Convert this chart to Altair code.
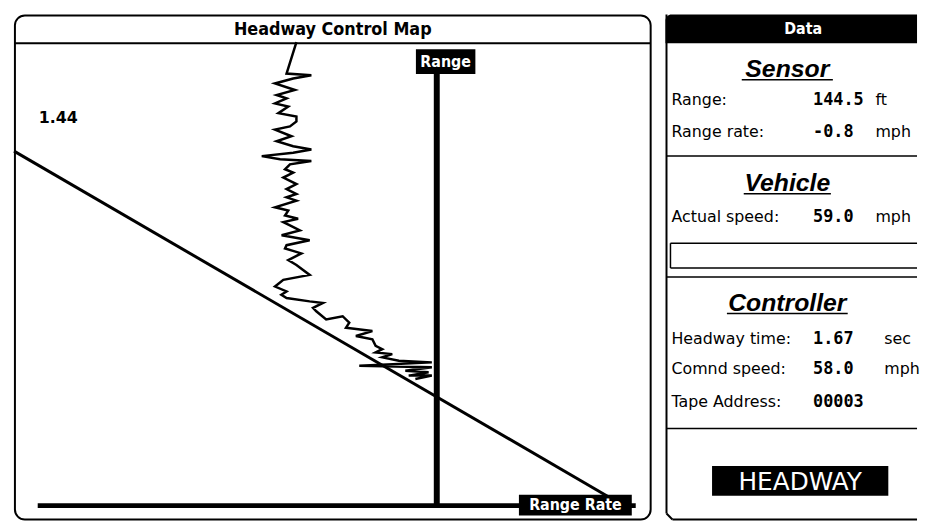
import altair as alt
import pandas as pd

# ---------------- data: headway control map (range rate in mph, range in ft) ----------------
trace_range_rate = [-9.96, -10.66, -8.90, -10.19, -11.48, -10.07, -11.36, -10.66, -11.48, -10.54,
                    -11.24, -9.96, -9.96, -10.42, -11.48, -10.31, -11.36, -10.19, -8.90, -10.19,
                    -12.42, -11.12, -8.90, -10.42, -10.77, -10.19, -10.89, -9.96, -10.66, -9.96,
                    -10.66, -9.96, -11.48, -10.54, -10.77, -9.84, -10.89, -10.42, -9.72, -11.01,
                    -9.02, -10.66, -10.77, -9.61, -10.54, -9.96, -9.02, -10.89, -11.48,
                    -10.66, -11.03, -10.66, -9.02, -8.08, -8.78, -8.55, -7.85, -6.68, -6.21,
                    -6.44, -4.57, -5.74, -4.57, -4.34, -3.87, -4.34, -3.16, -3.87, -2.69,
                    -0.35, -5.50, -0.35, -2.23, -0.58, -1.99, -0.35, -1.52]
trace_range = [490.1, 456.9, 455.2, 451.6, 446.4, 439.5, 434.2, 430.7, 425.4, 422.0,
               415.0, 411.5, 406.3, 401.0, 397.6, 390.6, 385.3, 380.1, 376.6, 373.1,
               369.6, 366.2, 364.4, 360.9, 355.7, 352.1, 346.9, 340.0, 334.8, 329.5,
               326.0, 322.5, 315.5, 312.0, 306.8, 303.4, 299.8, 296.3, 291.1, 285.9,
               280.6, 275.4, 271.9, 266.7, 259.7, 254.5, 244.0, 238.7, 231.7,
               226.5, 223.0, 219.6, 216.0, 214.3, 209.1, 205.5, 196.9, 200.3, 193.4,
               188.2, 184.6, 179.4, 175.9, 168.9, 165.4, 162.0, 160.2, 156.8, 153.2,
               151.5, 148.0, 146.3, 142.7, 141.0, 137.5, 137.5, 134.0]
headway_line_range_rate = [-30.0, 12.3]
headway_line_range = [374.9, 8.4]
headway_label = "1.44"
map_title = "Headway Control Map"

section_titles = ["Sensor", "Vehicle", "Controller"]
row_labels = ["Range:", "Range rate:", "Actual speed:", "Headway time:", "Comnd speed:", "Tape Address:"]
row_values = ["144.5", "-0.8", "59.0", "1.67", "58.0", "00003"]
row_units = ["ft", "mph", "mph", "sec", "mph", ""]
row_section = [0, 0, 1, 2, 2, 2]
mode_label = "HEADWAY"

# ---------------- layout ----------------
W, H = 912, 516
PX_MPH, PX_FT = 14.23, 0.955
X0, Y0 = 427, 500
xs = alt.Scale(domain=[-X0 / PX_MPH, (W - X0) / PX_MPH], nice=False, zero=False)
ys = alt.Scale(domain=[(Y0 - H) / PX_FT, Y0 / PX_FT], nice=False, zero=False)

COND = "DejaVu Sans Condensed, Liberation Sans Narrow, sans-serif"
SANS = "DejaVu Sans, sans-serif"
MONO = "DejaVu Sans Mono, monospace"
one = pd.DataFrame({"k": [0]})


def vrule(x, y, x2=None, y2=None, w=2):
    enc = dict(x=alt.value(x), y=alt.value(y))
    if x2 is not None:
        enc["x2"] = alt.value(x2)
    if y2 is not None:
        enc["y2"] = alt.value(y2)
    return alt.Chart(one).mark_rule(color="black", strokeWidth=w).encode(**enc)


def vtext(x, y, txt, **kw):
    return alt.Chart(one).mark_text(text=txt, baseline="middle", **kw).encode(
        x=alt.value(x), y=alt.value(y))


layers = []

# left panel frame and title bar
layers.append(alt.Chart(one).mark_rect(fill="white", stroke="black", strokeWidth=2,
                                       cornerRadius=10).encode(
    x=alt.value(1), x2=alt.value(643), y=alt.value(5), y2=alt.value(514)))
layers.append(vrule(1, 33, x2=643, w=2))
layers.append(vtext(322, 20, map_title, font=COND, fontSize=18, fontWeight="bold",
                    align="center", color="black"))

# map data
hw = pd.DataFrame({"rr": headway_line_range_rate, "r": headway_line_range})
layers.append(alt.Chart(hw).mark_line(color="black", strokeWidth=3).encode(
    x=alt.X("rr:Q", scale=xs, axis=None), y=alt.Y("r:Q", scale=ys, axis=None)))

tr = pd.DataFrame({"rr": trace_range_rate, "r": trace_range,
                   "i": list(range(len(trace_range)))})
layers.append(alt.Chart(tr).mark_line(color="black", strokeWidth=2.5).encode(
    x=alt.X("rr:Q", scale=xs, axis=None), y=alt.Y("r:Q", scale=ys, axis=None),
    order="i:Q"))

# range axis (vertical, range rate = 0)
ra = pd.DataFrame({"rr": [0.0], "r0": [0.0], "r1": [456.5]})
layers.append(alt.Chart(ra).mark_rule(color="black", strokeWidth=6).encode(
    x=alt.X("rr:Q", scale=xs, axis=None), y=alt.Y("r0:Q", scale=ys, axis=None), y2="r1:Q"))
rb = pd.DataFrame({"a": [-1.48], "b": [2.74], "c": [456.5], "d": [482.7],
                   "tx": [0.63], "ty": [469.6], "t": ["Range"]})
layers.append(alt.Chart(rb).mark_rect(color="black").encode(
    x=alt.X("a:Q", scale=xs, axis=None), x2="b:Q",
    y=alt.Y("c:Q", scale=ys, axis=None), y2="d:Q"))
layers.append(alt.Chart(rb).mark_text(color="white", font=COND, fontSize=16, fontWeight="bold",
                                      baseline="middle", align="center").encode(
    x=alt.X("tx:Q", scale=xs, axis=None), y=alt.Y("ty:Q", scale=ys, axis=None), text="t:N"))

# range rate axis (horizontal, range = 0)
rra = pd.DataFrame({"a": [-28.32], "b": [14.12], "r": [0.0]})
layers.append(alt.Chart(rra).mark_rule(color="black", strokeWidth=5).encode(
    x=alt.X("a:Q", scale=xs, axis=None), x2="b:Q", y=alt.Y("r:Q", scale=ys, axis=None)))
rrb = pd.DataFrame({"a": [5.83], "b": [13.84], "c": [-10.5], "d": [11.5],
                    "tx": [9.84], "ty": [0.5], "t": ["Range Rate"]})
layers.append(alt.Chart(rrb).mark_rect(color="black").encode(
    x=alt.X("a:Q", scale=xs, axis=None), x2="b:Q",
    y=alt.Y("c:Q", scale=ys, axis=None), y2="d:Q"))
layers.append(alt.Chart(rrb).mark_text(color="white", font=COND, fontSize=16, fontWeight="bold",
                                       baseline="middle", align="center").encode(
    x=alt.X("tx:Q", scale=xs, axis=None), y=alt.Y("ty:Q", scale=ys, axis=None), text="t:N"))

# headway label
hl = pd.DataFrame({"rr": [-28.25], "r": [409.4], "t": [headway_label]})
layers.append(alt.Chart(hl).mark_text(color="black", font=SANS, fontSize=16, fontWeight="bold",
                                      baseline="middle", align="left").encode(
    x=alt.X("rr:Q", scale=xs, axis=None), y=alt.Y("r:Q", scale=ys, axis=None), text="t:N"))

# ---------------- right data panel ----------------
PL = 659
layers.append(vrule(PL, 4, y2=508, w=2))
layers.append(vrule(PL, 508, x2=PL + 6, y2=514, w=2))
layers.append(vrule(PL + 6, 514, x2=W, w=2))
layers.append(alt.Chart(one).mark_rect(color="black", cornerRadiusTopLeft=6).encode(
    x=alt.value(PL - 1), x2=alt.value(W), y=alt.value(4), y2=alt.value(33)))
layers.append(vtext(797, 19, "Data", font=COND, fontSize=16, fontWeight="bold",
                    align="center", color="white"))
for yy in [147, 269, 422]:
    layers.append(vrule(PL, yy, x2=W, w=1.5))
# empty status box
layers.append(vrule(663, 235, x2=W, w=1.5))
layers.append(vrule(663, 260, x2=W, w=1.5))
layers.append(vrule(663, 235, y2=260, w=1.5))

# section titles with underlines
title_y = [59, 174, 295]
title_half = [46, 44, 61]
st = pd.DataFrame({"t": section_titles, "y": title_y})
layers.append(alt.Chart(st).mark_text(font="Liberation Sans, Arial, sans-serif", fontSize=25,
                                      fontWeight="bold", fontStyle="italic", baseline="middle",
                                      align="center", color="black").encode(
    x=alt.value(781), y=alt.Y("y:Q", scale=None), text="t:N"))
for ty, hw_ in zip(title_y, title_half):
    layers.append(vrule(781 - hw_, ty + 11, x2=781 + hw_, w=1.5))

# data rows
row_y = [90, 123, 209, 332, 362, 395]
unit_x = [870 if s < 2 else 879 for s in row_section]
rows = pd.DataFrame({"label": row_labels, "value": row_values, "unit": row_units,
                     "y": row_y, "ux": unit_x})
layers.append(alt.Chart(rows).mark_text(font=SANS, fontSize=16, baseline="middle",
                                        align="left", color="black").encode(
    x=alt.value(664), y=alt.Y("y:Q", scale=None), text="label:N"))
layers.append(alt.Chart(rows).mark_text(font=MONO, fontSize=17, fontWeight="bold",
                                        baseline="middle", align="left", color="black").encode(
    x=alt.value(807), y=alt.Y("y:Q", scale=None), text="value:N"))
layers.append(alt.Chart(rows).mark_text(font=SANS, fontSize=16, baseline="middle",
                                        align="left", color="black").encode(
    x=alt.X("ux:Q", scale=None), y=alt.Y("y:Q", scale=None), text="unit:N"))

# mode indicator
layers.append(alt.Chart(one).mark_rect(color="black").encode(
    x=alt.value(705), x2=alt.value(883), y=alt.value(460), y2=alt.value(490)))
layers.append(vtext(794, 476, mode_label, font=SANS, fontSize=25, align="center", color="white"))

chart = alt.layer(*layers).properties(
    width=W, height=H, padding={"left": 0, "top": 0, "right": 0, "bottom": 0}
).resolve_scale(x="independent", y="independent").configure_view(strokeWidth=0)

chart.save("out.html", embed_options={"renderer": "svg", "actions": False})
